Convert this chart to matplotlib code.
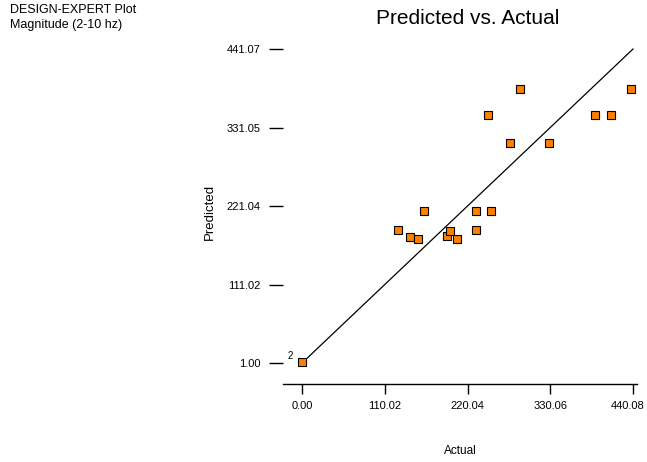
import matplotlib
matplotlib.use("Agg")
import matplotlib.pyplot as plt
from matplotlib.transforms import ScaledTranslation

plt.rcParams['font.family'] = ['Liberation Sans', 'DejaVu Sans']

# Observed vs. model-predicted responses
actual = [0.5, 128.0, 144.0, 154.7, 162.7, 193.4, 197.3, 206.7, 230.7, 230.7,
          250.7, 246.7, 276.0, 289.4, 328.0, 389.4, 410.7, 437.4]
predicted = [2.0, 187.6, 177.9, 175.0, 214.0, 179.0, 186.0, 175.0, 214.0, 187.6,
             214.0, 349.0, 309.0, 385.0, 309.0, 349.0, 349.0, 385.0]

x_ticks = [0.00, 110.02, 220.04, 330.06, 440.08]
x_labels = ["0.00", "110.02", "220.04", "330.06", "440.08"]
y_ticks = [1.00, 111.02, 221.04, 331.05, 441.07]
y_labels = ["1.00", "111.02", "221.04", "331.05", "441.07"]

fig = plt.figure(figsize=(6.47, 4.62), dpi=100)
ax = fig.add_axes([283/647, 1 - 384/462, 354/647, (384 - 40)/462])

# Reference line y = x
ax.plot([0.0, 440.08], [1.0, 441.07], color="black", lw=0.9, zorder=1)

ax.plot(actual, predicted, linestyle="none", marker="s", markersize=5.5,
        markerfacecolor="#ff8000", markeredgecolor="black", markeredgewidth=0.8,
        zorder=3)
ax.text(-12, 4, "2", fontsize=7, ha="right", va="bottom")

ax.set_xlim(-25.3, 445.4)
ax.set_ylim(-28.4, 453.7)

for side in ("top", "right", "left"):
    ax.spines[side].set_visible(False)
ax.spines["bottom"].set_linewidth(1.0)

ax.set_xticks(x_ticks)
ax.set_xticklabels(x_labels, fontsize=8)
ax.set_yticks(y_ticks)
ax.set_yticklabels(y_labels, fontsize=8)
ax.tick_params(axis="x", direction="out", length=7, width=1.0, pad=5)
ax.tick_params(axis="y", direction="out", length=10, width=1.0, pad=6)

# keep the rightmost tick label inside the figure
last = ax.get_xticklabels()[-1]
last.set_transform(last.get_transform() + ScaledTranslation(-5/100, 0, fig.dpi_scale_trans))

ax.set_xlabel("Actual", fontsize=8.5, labelpad=25)
ax.set_ylabel("Predicted", fontsize=9.5, labelpad=8)

fig.text(468/647, 1 - 18/462, "Predicted vs. Actual", fontsize=15,
         ha="center", va="center")
fig.text(10/647, 1 - 4/462, "DESIGN-EXPERT Plot\nMagnitude (2-10 hz)",
         fontsize=9, ha="left", va="top", linespacing=1.3)

fig.savefig("out.png", dpi=100)
